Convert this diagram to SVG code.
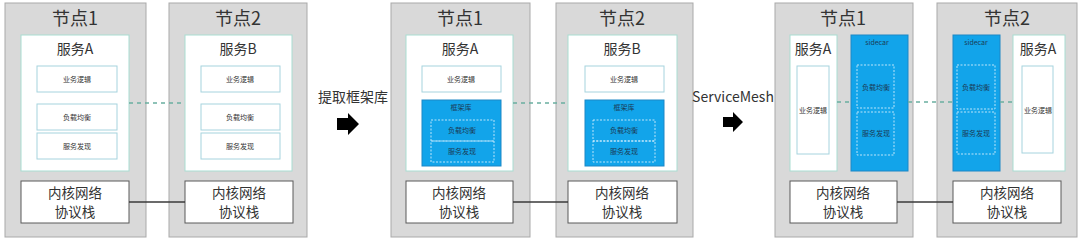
<svg xmlns="http://www.w3.org/2000/svg" width="1080" height="239" viewBox="0 0 1080 239">
<style>
text{font-family:"Noto Sans CJK SC","Noto Sans",sans-serif;fill:#333;text-anchor:middle}
.node{fill:#d9d9d9;stroke:#a9a9a9;stroke-width:1}
.svc{fill:#fff;stroke:#a9ddd2;stroke-width:1}
.inner{fill:#fff;stroke:#a6d3de;stroke-width:1}
.blue{fill:#12a4ea;stroke:#1d87c6;stroke-width:1}
.dbox{fill:none;stroke:#e8f6ff;stroke-width:0.8;stroke-dasharray:2 1.5}
.kern{fill:#fff;stroke:#5a5a5a;stroke-width:1}
.t1{font-size:18px}
.t2{font-size:14px}
.t3{font-size:13.5px}
.ts{font-size:7px}
.tb{font-size:7px;fill:#1b3b55}
.dash{stroke:#6aaea0;stroke-width:1.5;stroke-dasharray:4 4;fill:none}
.wire{stroke:#3a3a3a;stroke-width:1.5;fill:none}
.lbl{font-size:14px}
</style>
<rect width="1080" height="239" fill="#fff"/>

<g id="p1-node1">
<rect class="node" x="5" y="3" width="141" height="234"/>
<text class="t1" x="75" y="25">节点1</text>
<rect class="svc" x="21" y="35" width="108" height="136"/>
<text class="t2" x="75" y="54">服务A</text>
<rect class="inner" x="37" y="66" width="80" height="26"/>
<text class="ts" x="77" y="82">业务逻辑</text>
<rect class="inner" x="37" y="104" width="80" height="26"/>
<text class="ts" x="77" y="120">负载均衡</text>
<rect class="inner" x="37" y="133" width="80" height="26"/>
<text class="ts" x="77" y="149">服务发现</text>
<rect class="kern" x="21" y="181" width="108" height="42"/>
<text class="t3" x="75" y="197.5">内核网络</text>
<text class="t3" x="75" y="216.5">协议栈</text>
</g>

<g id="p1-node2">
<rect class="node" x="169" y="3" width="138" height="234"/>
<text class="t1" x="238" y="25">节点2</text>
<rect class="svc" x="185" y="35" width="107" height="136"/>
<text class="t2" x="238" y="54">服务B</text>
<rect class="inner" x="201" y="66" width="79" height="26"/>
<text class="ts" x="240" y="82">业务逻辑</text>
<rect class="inner" x="201" y="104" width="79" height="26"/>
<text class="ts" x="240" y="120">负载均衡</text>
<rect class="inner" x="201" y="133" width="79" height="26"/>
<text class="ts" x="240" y="149">服务发现</text>
<rect class="kern" x="185" y="181" width="108" height="42"/>
<text class="t3" x="239" y="197.5">内核网络</text>
<text class="t3" x="239" y="216.5">协议栈</text>
</g>

<g id="step1">
<text class="lbl" x="353" y="102">提取框架库</text>
<polygon points="337,118 348,118 348,113 359,124 348,135 348,130 337,130" fill="#000"/>
</g>

<g id="p2-node1">
<rect class="node" x="391" y="3" width="139" height="234"/>
<text class="t1" x="460" y="25">节点1</text>
<rect class="svc" x="406" y="35" width="107" height="136"/>
<text class="t2" x="460" y="54">服务A</text>
<rect class="inner" x="422" y="66" width="79" height="26"/>
<text class="ts" x="461" y="82">业务逻辑</text>
<rect class="blue" x="422" y="100" width="79" height="66"/>
<text class="tb" x="461" y="110">框架库</text>
<rect class="dbox" x="431" y="120" width="63" height="21"/>
<rect class="dbox" x="431" y="141" width="63" height="21"/>
<text class="tb" x="462" y="133">负载均衡</text>
<text class="tb" x="462" y="154">服务发现</text>
<rect class="kern" x="406" y="181" width="107" height="42"/>
<text class="t3" x="459" y="197.5">内核网络</text>
<text class="t3" x="459" y="216.5">协议栈</text>
</g>

<g id="p2-node2">
<rect class="node" x="556" y="3" width="137" height="234"/>
<text class="t1" x="622" y="25">节点2</text>
<rect class="svc" x="568" y="35" width="109" height="136"/>
<text class="t2" x="622" y="54">服务B</text>
<rect class="inner" x="585" y="66" width="79" height="26"/>
<text class="ts" x="624" y="82">业务逻辑</text>
<rect class="blue" x="585" y="100" width="79" height="66"/>
<text class="tb" x="624" y="110">框架库</text>
<rect class="dbox" x="593" y="120" width="62" height="21"/>
<rect class="dbox" x="593" y="141" width="62" height="21"/>
<text class="tb" x="624" y="133">负载均衡</text>
<text class="tb" x="624" y="154">服务发现</text>
<rect class="kern" x="568" y="181" width="109" height="42"/>
<text class="t3" x="622" y="197.5">内核网络</text>
<text class="t3" x="622" y="216.5">协议栈</text>
</g>

<g id="step2">
<text class="lbl" x="733" y="102" font-size="13">ServiceMesh</text>
<polygon points="723,117 733,117 733,112 743,122 733,132 733,127 723,127" fill="#000"/>
</g>

<g id="p3-node1">
<rect class="node" x="775" y="3" width="138" height="234"/>
<text class="t1" x="843" y="25">节点1</text>
<rect class="svc" x="790" y="35" width="47" height="136"/>
<text class="t2" x="813" y="54">服务A</text>
<rect class="inner" x="797" y="66" width="32" height="88"/>
<text class="ts" x="813" y="113" font-size="6.5">业务逻辑</text>
<rect class="blue" x="851" y="35" width="57" height="136"/>
<text class="tb" x="877" y="45">sidecar</text>
<rect class="dbox" x="857" y="65" width="37" height="43"/>
<rect class="dbox" x="857" y="112" width="37" height="43"/>
<text class="tb" x="876" y="90">负载均衡</text>
<text class="tb" x="876" y="136">服务发现</text>
<rect class="kern" x="790" y="181" width="107" height="42"/>
<text class="t3" x="843" y="197.5">内核网络</text>
<text class="t3" x="843" y="216.5">协议栈</text>
</g>

<g id="p3-node2">
<rect class="node" x="937" y="3" width="140" height="234"/>
<text class="t1" x="1007" y="25">节点2</text>
<rect class="blue" x="953" y="35" width="47" height="136"/>
<text class="tb" x="976" y="45">sidecar</text>
<rect class="dbox" x="957" y="65" width="38" height="44"/>
<rect class="dbox" x="957" y="112" width="38" height="42"/>
<text class="tb" x="976" y="90">负载均衡</text>
<text class="tb" x="976" y="136">服务发现</text>
<rect class="svc" x="1013" y="35" width="52" height="136"/>
<text class="t2" x="1038" y="54">服务A</text>
<rect class="inner" x="1022" y="66" width="31" height="87"/>
<text class="ts" x="1038" y="113" font-size="6.5">业务逻辑</text>
<rect class="kern" x="953" y="181" width="108" height="42"/>
<text class="t3" x="1007" y="197.5">内核网络</text>
<text class="t3" x="1007" y="216.5">协议栈</text>
</g>

<g id="connectors">
<line class="dash" x1="129" y1="103" x2="185" y2="103"/>
<line class="wire" x1="129" y1="202" x2="185" y2="202"/>
<line class="dash" x1="513" y1="103" x2="568" y2="103"/>
<line class="wire" x1="513" y1="202" x2="568" y2="202"/>
<line class="dash" x1="837" y1="102" x2="851" y2="102"/>
<line class="dash" x1="908" y1="102" x2="953" y2="102"/>
<line class="dash" x1="1000" y1="102" x2="1013" y2="102"/>
<line class="wire" x1="897" y1="202" x2="953" y2="202"/>
</g>
</svg>
